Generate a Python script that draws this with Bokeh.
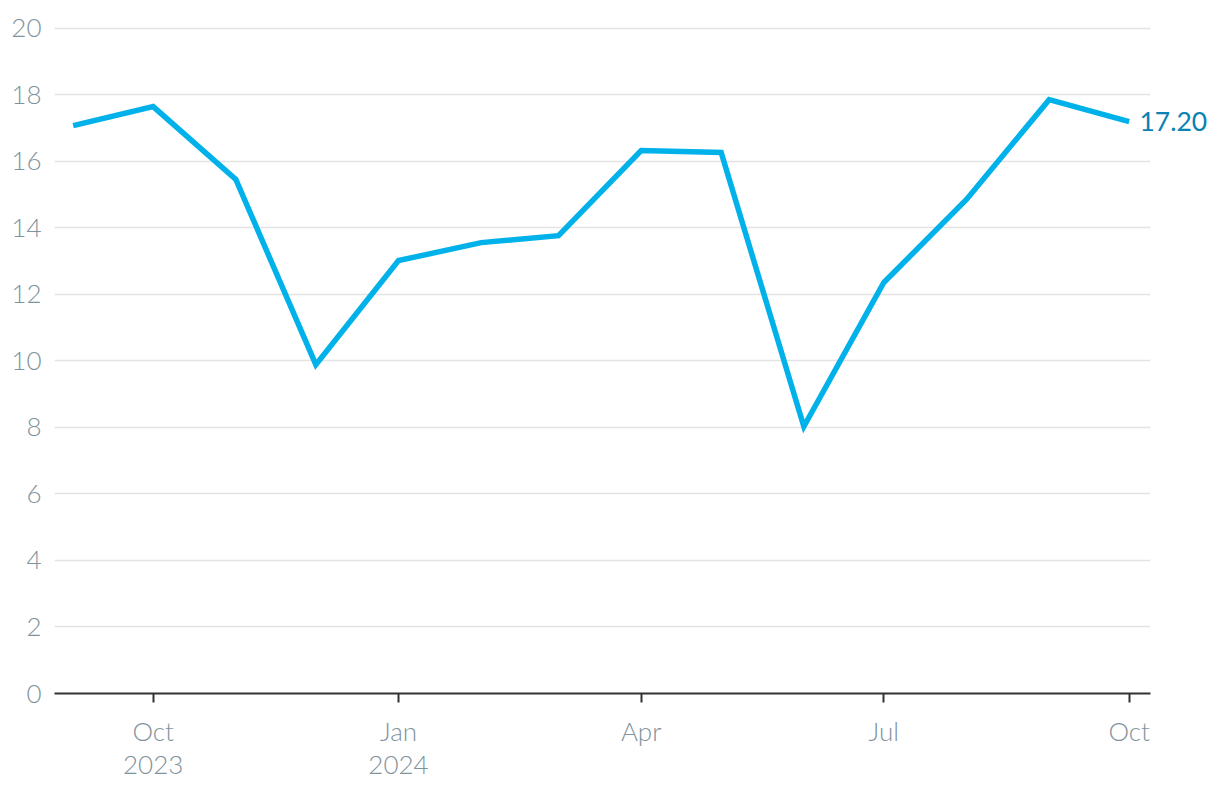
import pandas as pd
from bokeh.plotting import figure
from bokeh.models import FixedTicker, Range1d, ColumnDataSource, LinearAxis
from bokeh.embed import file_html
from bokeh.resources import INLINE

months = ["2023-09-01", "2023-10-01", "2023-11-01", "2023-12-01", "2024-01-01", "2024-02-01",
          "2024-03-01", "2024-04-01", "2024-05-01", "2024-06-01", "2024-07-01", "2024-08-01",
          "2024-09-01", "2024-10-01"]
values = [17.08, 17.65, 15.46, 9.89, 13.02, 13.56, 13.77, 16.33, 16.27, 8.03, 12.36, 14.86, 17.86, 17.20]
tick_dates = ["2023-10-01", "2024-01-01", "2024-04-01", "2024-07-01", "2024-10-01"]
tick_labels = ["Oct\n2023", "Jan\n2024", "Apr", "Jul", "Oct"]
y_ticks = [0, 2, 4, 6, 8, 10, 12, 14, 16, 18, 20]
last_label = "17.20"

def ms(s):
    return pd.Timestamp(s).value / 1e6

xs = [ms(m) for m in months]
src = ColumnDataSource(dict(x=xs, y=values))

FONT = "'Lato Light', Lato"
LABEL_COLOR = "#7f939c"

p = figure(width=1220, height=790, output_backend="svg", toolbar_location=None,
           x_range=Range1d(ms("2023-08-25"), ms("2024-10-09")),
           y_range=Range1d(0, 20.3),
           min_border_left=54, min_border_right=70, min_border_top=18, min_border_bottom=97)
p.outline_line_color = None
p.background_fill_color = "white"
p.border_fill_color = "white"

p.line("x", "y", source=src, line_color="#00b2e9", line_width=5.5, line_join="miter")

p.xgrid.visible = False
p.ygrid.grid_line_color = "#e3e3e3"
p.ygrid.grid_line_width = 1.5
p.ygrid.ticker = FixedTicker(ticks=y_ticks)

ya = p.yaxis[0]
ya.ticker = FixedTicker(ticks=y_ticks)
ya.axis_line_color = None
ya.major_tick_line_color = None
ya.minor_tick_line_color = None
ya.major_label_text_font = FONT
ya.major_label_text_font_size = "26px"
ya.major_label_text_color = LABEL_COLOR
ya.major_label_standoff = 7

tick_ms = [ms(d) for d in tick_dates]
xa = p.xaxis[0]
xa.ticker = FixedTicker(ticks=tick_ms)
xa.major_label_overrides = {t: l for t, l in zip(tick_ms, tick_labels)}
xa.axis_line_color = "#333333"
xa.axis_line_width = 2
xa.major_tick_line_color = "#333333"
xa.major_tick_line_width = 2
xa.major_tick_out = 9
xa.major_tick_in = 0
xa.minor_tick_line_color = None
xa.major_label_text_font = FONT
xa.major_label_text_font_size = "26px"
xa.major_label_text_color = LABEL_COLOR
xa.major_label_text_line_height = 1.05
xa.major_label_standoff = 12

# end-of-line value label, drawn as a right-side axis label
ra = LinearAxis(ticker=FixedTicker(ticks=[values[-1]]),
                major_label_overrides={values[-1]: last_label})
ra.axis_line_color = None
ra.major_tick_line_color = None
ra.minor_tick_line_color = None
ra.major_tick_out = 0
ra.major_tick_in = 0
ra.major_label_text_font = "Lato"
ra.major_label_text_font_size = "26.5px"
ra.major_label_text_color = "#0a82b4"
ra.major_label_standoff = -11
p.add_layout(ra, "right")

open("out.html", "w").write(file_html(p, INLINE))
